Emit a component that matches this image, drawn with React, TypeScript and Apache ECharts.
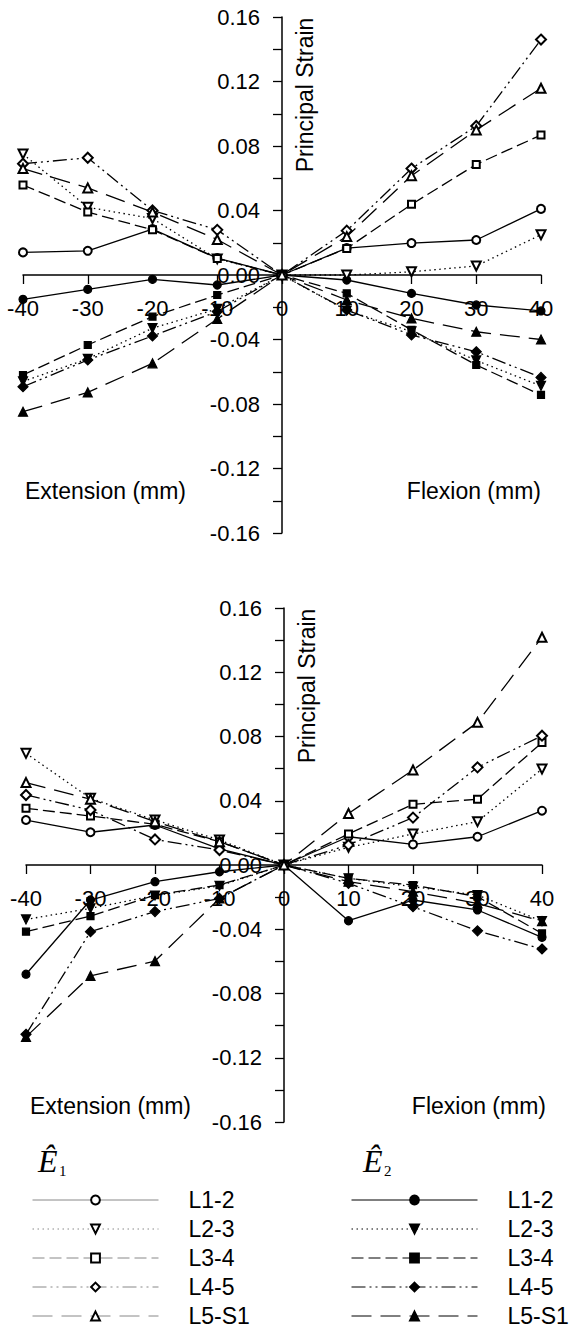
import React, { useEffect, useRef } from "react";
import * as echarts from "echarts";

// Displacement (mm): negative = extension, positive = flexion
const xValues = [-40, -30, -20, -10, 0, 10, 20, 30, 40];
const levels = ["L1-2", "L2-3", "L3-4", "L4-5", "L5-S1"];
const yTickLabels = ["-0.16", "-0.12", "-0.08", "-0.04", "0.00", "0.04", "0.08", "0.12", "0.16"];

// Top panel, principal strain E1 (open markers), one row per level
const topE1 = [
  [0.014, 0.015, 0.0285, 0.0105, 0, 0.0167, 0.0198, 0.0217, 0.041],
  [0.075, 0.042, 0.035, 0.010, 0, 0.0, 0.002, 0.0056, 0.025],
  [0.0558, 0.039, 0.028, 0.0103, 0, 0.0165, 0.0438, 0.0686, 0.0868],
  [0.069, 0.0727, 0.040, 0.028, 0, 0.0275, 0.066, 0.0924, 0.146],
  [0.066, 0.054, 0.039, 0.022, 0, 0.0238, 0.0616, 0.090, 0.1158],
];
// Top panel, principal strain E2 (filled markers)
const topE2 = [
  [-0.0151, -0.0089, -0.0027, -0.0062, 0, -0.0031, -0.0114, -0.0186, -0.0223],
  [-0.066, -0.052, -0.033, -0.021, 0, -0.022, -0.035, -0.053, -0.0688],
  [-0.062, -0.0434, -0.0258, -0.0124, 0, -0.0114, -0.034, -0.0558, -0.0744],
  [-0.0693, -0.0527, -0.0378, -0.0227, 0, -0.0217, -0.0372, -0.0476, -0.0635],
  [-0.0848, -0.0728, -0.0548, -0.0273, 0, -0.0155, -0.0269, -0.0352, -0.040],
];
// Bottom panel, E1
const bottomE1 = [
  [0.028, 0.0204, 0.0249, 0.010, 0, 0.0176, 0.0128, 0.0176, 0.0338],
  [0.0695, 0.0415, 0.028, 0.0156, 0, 0.011, 0.0193, 0.027, 0.0598],
  [0.0353, 0.0305, 0.0253, 0.0145, 0, 0.0193, 0.0378, 0.041, 0.0762],
  [0.0436, 0.0342, 0.0159, 0.0093, 0, 0.0125, 0.0295, 0.0608, 0.0805],
  [0.0513, 0.041, 0.027, 0.0145, 0, 0.0321, 0.0591, 0.0888, 0.1418],
];
// Bottom panel, E2
const bottomE2 = [
  [-0.068, -0.0218, -0.0104, -0.0042, 0, -0.0347, -0.0218, -0.028, -0.045],
  [-0.0339, -0.027, -0.019, -0.013, 0, -0.0083, -0.0135, -0.0187, -0.035],
  [-0.0415, -0.0318, -0.0187, -0.0125, 0, -0.0083, -0.0125, -0.0197, -0.0426],
  [-0.1054, -0.0415, -0.029, -0.0208, 0, -0.0114, -0.026, -0.041, -0.0523],
  [-0.107, -0.069, -0.0598, -0.0208, 0, -0.0104, -0.0166, -0.0239, -0.035],
];

const SANS = "'Liberation Sans', Arial, sans-serif";
const SERIF = "'Liberation Serif', 'Times New Roman', serif";

const dashes: any[] = ["solid", [1.5, 3.5], [12, 5], [14, 4, 2, 4, 2, 4], [20, 9]];
const openSymbols = ["emptyCircle", "emptyTriangle", "emptyRect", "emptyDiamond", "emptyTriangle"];
const filledSymbols = ["circle", "triangle", "rect", "diamond", "triangle"];
const symbolSizes = [8, 9, 7, 10, 9];
const symbolRotates = [0, 180, 0, 0, 0];

const grids = [
  { left: 23, top: 17, width: 518, height: 516 },
  { left: 26, top: 608, width: 516, height: 514 },
];

function makeSeries(grid: number, e: number, rows: number[][]) {
  return rows.map((vals, i) => ({
    type: "line",
    name: `E${e} ${levels[i]}`,
    xAxisIndex: grid,
    yAxisIndex: grid,
    data: xValues.map((x, k) => [x, vals[k]]),
    symbol: e === 1 ? openSymbols[i] : filledSymbols[i],
    symbolRotate: symbolRotates[i],
    symbolSize: symbolSizes[i],
    itemStyle: { color: "#000", borderColor: "#000", borderWidth: 1.2 },
    lineStyle: { color: "#000", width: 1.3, type: dashes[i] },
    emphasis: { disabled: true },
    z: e === 1 ? 3 : 2,
  }));
}

function xAxisOf(grid: number) {
  return {
    type: "value",
    gridIndex: grid,
    position: "bottom",
    offset: -grids[grid].height / 2,
    min: -40,
    max: 40,
    interval: 10,
    axisLine: { onZero: false, lineStyle: { color: "#000", width: 1.5 } },
    axisTick: { length: 9, lineStyle: { color: "#000", width: 1.3 } },
    axisLabel: { color: "#000", fontSize: 22, fontFamily: SANS, margin: 22 },
    splitLine: { show: false },
  };
}

function yAxisOf(grid: number) {
  return {
    type: "value",
    gridIndex: grid,
    position: "left",
    offset: -grids[grid].width / 2,
    min: -0.16,
    max: 0.16,
    interval: 0.04,
    axisLine: { onZero: false, lineStyle: { color: "#000", width: 1.5 } },
    axisTick: { length: 9, lineStyle: { color: "#000", width: 1.3 } },
    minorTick: { show: true, splitNumber: 2, length: 9, lineStyle: { color: "#000", width: 1.3 } },
    axisLabel: {
      color: "#000",
      fontSize: 22,
      fontFamily: SANS,
      margin: 22,
      formatter: (v: number) => yTickLabels[Math.round((v + 0.16) / 0.04)] ?? v.toFixed(2),
    },
    splitLine: { show: false },
    minorSplitLine: { show: false },
  };
}

function legendOf(e: number, left: number, lineColor: string) {
  return {
    data: levels.map((l) => `E${e} ${l}`),
    orient: "vertical",
    left,
    top: 1188,
    height: 160,
    padding: 0,
    itemWidth: 126,
    itemHeight: 11,
    itemGap: 5,
    selectedMode: false,
    formatter: (name: string) => name.slice(3),
    lineStyle: { color: lineColor, width: 1 },
    textStyle: { color: "#000", fontSize: 23, lineHeight: 24, fontFamily: SANS, padding: [0, 0, 0, 25] },
  };
}

function text(x: number, y: number, t: string, extra: any = {}, style: any = {}) {
  return {
    type: "text",
    x,
    y,
    ...extra,
    style: { text: t, fill: "#000", font: `23px ${SANS}`, ...style },
  };
}

export default function App() {
  const ref = useRef<HTMLDivElement>(null);
  useEffect(() => {
    const chart = echarts.init(ref.current!, null, { renderer: "svg" });
    chart.setOption({
      animation: false,
      backgroundColor: "#fff",
      grid: grids.map((g) => ({ ...g, outerBoundsMode: "none", containLabel: false })),
      xAxis: [xAxisOf(0), xAxisOf(1)],
      yAxis: [yAxisOf(0), yAxisOf(1)],
      legend: [legendOf(1, 32, "#888"), legendOf(2, 351, "#000")],
      series: [
        ...makeSeries(0, 1, topE1),
        ...makeSeries(0, 2, topE2),
        ...makeSeries(1, 1, bottomE1),
        ...makeSeries(1, 2, bottomE2),
      ],
      graphic: [
        text(305, 95, "Principal Strain", { rotation: Math.PI / 2 }, { align: "center", verticalAlign: "middle" }),
        text(307, 686, "Principal Strain", { rotation: Math.PI / 2 }, { align: "center", verticalAlign: "middle" }),
        text(25, 491, "Extension (mm)", {}, { verticalAlign: "middle" }),
        text(541, 491, "Flexion (mm)", {}, { align: "right", verticalAlign: "middle" }),
        text(30, 1106, "Extension (mm)", {}, { verticalAlign: "middle" }),
        text(546, 1106, "Flexion (mm)", {}, { align: "right", verticalAlign: "middle" }),
        text(38, 1145, "Ê", {}, { font: `italic 32px ${SERIF}`, verticalAlign: "top" }),
        text(59, 1163, "1", {}, { font: `15px ${SERIF}`, verticalAlign: "top" }),
        text(363, 1145, "Ê", {}, { font: `italic 32px ${SERIF}`, verticalAlign: "top" }),
        text(384, 1163, "2", {}, { font: `15px ${SERIF}`, verticalAlign: "top" }),
      ],
    });
    return () => chart.dispose();
  }, []);
  return (
    <div
      ref={ref}
      style={{ position: "absolute", left: 0, top: 0, width: 570, height: 1328, background: "#fff" }}
    />
  );
}
